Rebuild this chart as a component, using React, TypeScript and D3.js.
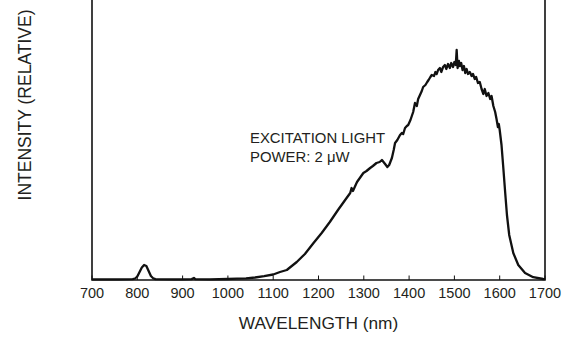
import * as d3 from "d3";

// wavelength (nm) and relative intensity (a.u., peak ~230)
const wavelength = [
  700, 760, 790, 795, 800, 805, 810, 815, 820, 825, 830, 835, 840, 880, 900, 920, 925, 928, 960,
  1000, 1020, 1040, 1060, 1080, 1100, 1115, 1130, 1152, 1170, 1189, 1207, 1225, 1243, 1262,
  1270, 1273, 1276, 1285, 1299, 1306, 1314, 1320, 1328, 1335, 1340, 1347, 1352, 1356, 1362,
  1366, 1369, 1374, 1380, 1384, 1387, 1391, 1395, 1398, 1403, 1409, 1413, 1417, 1420, 1424,
  1428, 1431, 1436, 1440, 1443, 1447, 1450, 1455, 1458, 1461, 1464, 1468, 1471, 1475, 1479,
  1482, 1486, 1490, 1493, 1497, 1500, 1503, 1505, 1507, 1510, 1512, 1515, 1518, 1521, 1524,
  1527, 1530, 1534, 1538, 1541, 1545, 1548, 1552, 1556, 1560, 1564, 1567, 1571, 1575, 1579,
  1582, 1586, 1590, 1593, 1596, 1598, 1600, 1604, 1608, 1612, 1616, 1621, 1630, 1641, 1656,
  1674, 1696, 1700,
];
const intensity = [
  0.6, 0.6, 0.8, 1.5, 3.5, 8, 12.5, 15, 14, 9, 4, 1.8, 0.9, 0.6, 0.7, 0.9, 2, 0.9, 0.7,
  1, 1.3, 1.7, 2.5, 3.8, 5.5, 8, 10, 18, 26, 37, 47, 58, 70, 82,
  87, 92, 89, 98, 107, 109, 112, 114, 117, 118, 120, 116, 113, 115, 122,
  130, 137, 140, 145, 147, 146, 152, 154, 155, 160, 168, 177, 174, 181, 185,
  189, 193, 195, 198, 200, 203, 205, 204, 208, 206, 210, 212, 208, 213, 215,
  211, 216, 212, 217, 213, 218, 215, 230, 212, 219, 214, 217, 210, 214, 207,
  211, 206, 208, 204, 206, 201, 203, 197, 198, 191, 186, 191, 184, 187, 181,
  184, 174, 168, 161, 153, 156, 150, 135, 112, 88, 65, 45, 27, 15, 7,
  2.8, 1, 0.8,
];

const xTicks = [700, 800, 900, 1000, 1100, 1200, 1300, 1400, 1500, 1600, 1700];

const W = 566;
const H = 338;
const FONT = "'Liberation Sans', Arial, Helvetica, sans-serif";
const TEXT = "#231f20";

export default function App() {
  const left = 92, right = 545, bottom = 280, top = -10;
  const x = d3.scaleLinear().domain([700, 1700]).range([left, right]);
  const y = d3.scaleLinear().domain([0, 230]).range([bottom, 50]);

  const pts = wavelength.map((w, i) => [w, intensity[i]] as [number, number]);
  const line = d3.line<[number, number]>()
    .x(d => x(d[0]))
    .y(d => y(d[1]));

  return (
    <svg
      width={W}
      height={H}
      style={{ position: "absolute", left: 0, top: 0, background: "#fff" }}
      fontFamily={FONT}
    >
      <rect x={0} y={0} width={W} height={H} fill="#fff" />

      {/* spectrum */}
      <path d={line(pts) ?? ""} fill="none" stroke="#111" strokeWidth={2.3} strokeLinejoin="round" />

      {/* frame: left, bottom, right */}
      <path
        d={`M${left},${top}V${bottom}H${right}V${top}`}
        fill="none"
        stroke="#111"
        strokeWidth={1.6}
      />

      {/* x ticks, inward */}
      {xTicks.map(t => (
        <g key={t}>
          <line x1={x(t)} x2={x(t)} y1={bottom} y2={bottom - 4.5} stroke="#111" strokeWidth={1} />
          <text x={x(t)} y={298} textAnchor="middle" fontSize={14.5} fill={TEXT}>
            {t}
          </text>
        </g>
      ))}

      <text x={(left + right) / 2} y={329} textAnchor="middle" fontSize={17.3} fill={TEXT}>
        WAVELENGTH (nm)
      </text>

      <text
        transform={`translate(31,105) rotate(-90)`}
        textAnchor="middle"
        fontSize={17.5}
        fill={TEXT}
      >
        INTENSITY (RELATIVE)
      </text>

      <text x={250} y={143} fontSize={14.9} fill={TEXT}>
        EXCITATION LIGHT
      </text>
      <text x={250} y={161.5} fontSize={14.9} fill={TEXT}>
        POWER: 2 μW
      </text>
    </svg>
  );
}
